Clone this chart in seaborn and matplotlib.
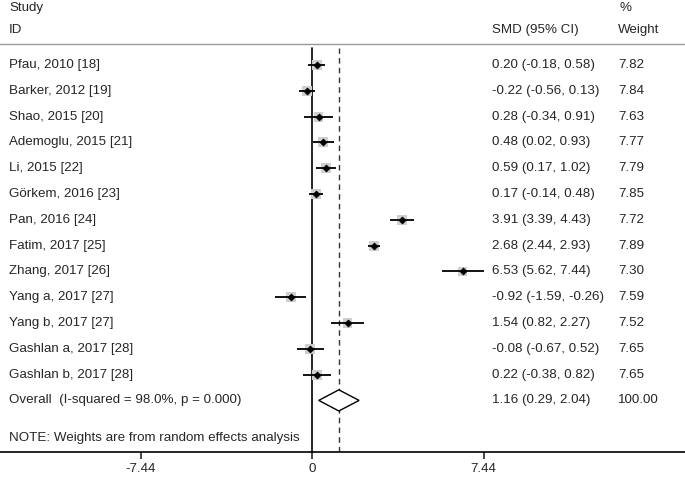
import matplotlib
matplotlib.use("Agg")
import matplotlib.pyplot as plt
import numpy as np
import pandas as pd
import seaborn as sns

studies = [
    "Pfau, 2010 [18]", "Barker, 2012 [19]", "Shao, 2015 [20]", "Ademoglu, 2015 [21]",
    "Li, 2015 [22]", "Görkem, 2016 [23]", "Pan, 2016 [24]", "Fatim, 2017 [25]",
    "Zhang, 2017 [26]", "Yang a, 2017 [27]", "Yang b, 2017 [27]",
    "Gashlan a, 2017 [28]", "Gashlan b, 2017 [28]",
]
smd = [0.20, -0.22, 0.28, 0.48, 0.59, 0.17, 3.91, 2.68, 6.53, -0.92, 1.54, -0.08, 0.22]
ci_low = [-0.18, -0.56, -0.34, 0.02, 0.17, -0.14, 3.39, 2.44, 5.62, -1.59, 0.82, -0.67, -0.38]
ci_high = [0.58, 0.13, 0.91, 0.93, 1.02, 0.48, 4.43, 2.93, 7.44, -0.26, 2.27, 0.52, 0.82]
weights = [7.82, 7.84, 7.63, 7.77, 7.79, 7.85, 7.72, 7.89, 7.30, 7.59, 7.52, 7.65, 7.65]

overall_label = "Overall  (I-squared = 98.0%, p = 0.000)"
overall_smd = 1.16
overall_low = 0.29
overall_high = 2.04
overall_weight = 100.00
note = "NOTE: Weights are from random effects analysis"
xticks = [-7.44, 0, 7.44]

df = pd.DataFrame({"study": studies, "smd": smd, "lo": ci_low, "hi": ci_high, "w": weights})
df["row"] = np.arange(len(df))

sns.set_style("white")
plt.rcParams["font.family"] = ["Liberation Sans", "DejaVu Sans"]
fs = 9.6

fig = plt.figure(figsize=(6.85, 4.78), dpi=100)
H = 478.0
W = 685.0
ax = fig.add_axes([0, 1 - 452 / H, 1, (452 - 44) / H])
ax.set_xlim(-13.54, 16.18)
ax.set_ylim(15.0, -0.815)

# weight boxes and point estimates
ax.hlines(df["row"], df["lo"], df["hi"], color="black", lw=1.3, zorder=3)
sns.scatterplot(data=df, x="smd", y="row", marker="s", s=df["w"].values * 6.5,
                color="#cfcfcf", edgecolor="none", ax=ax, zorder=2, legend=False)
sns.scatterplot(data=df, x="smd", y="row", marker="D", s=14,
                color="black", edgecolor="black", ax=ax, zorder=4, legend=False)

# overall diamond
orow = len(df)
ax.fill([overall_low, overall_smd, overall_high, overall_smd],
        [orow, orow - 0.41, orow, orow + 0.41],
        facecolor="white", edgecolor="black", lw=1.0, zorder=3)

ax.axvline(0, color="black", lw=1.2, ymin=0, ymax=0.99, zorder=1)
ax.plot([overall_smd, overall_smd], [15.0, -0.65], color="#333333", lw=1.0,
        ls=(0, (4, 3)), zorder=1)

for sp in ["left", "right"]:
    ax.spines[sp].set_visible(False)
ax.spines["top"].set_color("#9a9a9a")
ax.spines["top"].set_linewidth(1.0)
ax.spines["bottom"].set_color("black")
ax.spines["bottom"].set_linewidth(1.2)

ax.set_xticks(xticks)
ax.set_xticklabels([f"{t:g}" for t in xticks], fontsize=fs)
ax.tick_params(axis="x", direction="out", length=5, width=1.2, bottom=True, pad=3)
ax.set_yticks([])
ax.set_xlabel("")
ax.set_ylabel("")

# table text
tx = ax.get_yaxis_transform()
for i, r in df.iterrows():
    ax.text(9 / W, r["row"], r["study"], transform=tx, fontsize=fs, va="center")
    ax.text(492 / W, r["row"], f"{r['smd']:.2f} ({r['lo']:.2f}, {r['hi']:.2f})",
            transform=tx, fontsize=fs, va="center")
    ax.text(618 / W, r["row"], f"{r['w']:.2f}", transform=tx, fontsize=fs, va="center")

ax.text(9 / W, orow, overall_label, transform=tx, fontsize=fs, va="center")
ax.text(492 / W, orow, f"{overall_smd:.2f} ({overall_low:.2f}, {overall_high:.2f})",
        transform=tx, fontsize=fs, va="center")
ax.text(618 / W, orow, f"{overall_weight:.2f}", transform=tx, fontsize=fs, va="center")
ax.text(9 / W, 14.47, note, transform=tx, fontsize=fs, va="center")

# headers
fig.text(9 / W, 1 - 8 / H, "Study", fontsize=fs, va="center")
fig.text(9 / W, 1 - 30 / H, "ID", fontsize=fs, va="center")
fig.text(492 / W, 1 - 30 / H, "SMD (95% CI)", fontsize=fs, va="center")
fig.text(620 / W, 1 - 8 / H, "%", fontsize=fs, va="center")
fig.text(618 / W, 1 - 30 / H, "Weight", fontsize=fs, va="center")

fig.savefig("out.png", dpi=100)
